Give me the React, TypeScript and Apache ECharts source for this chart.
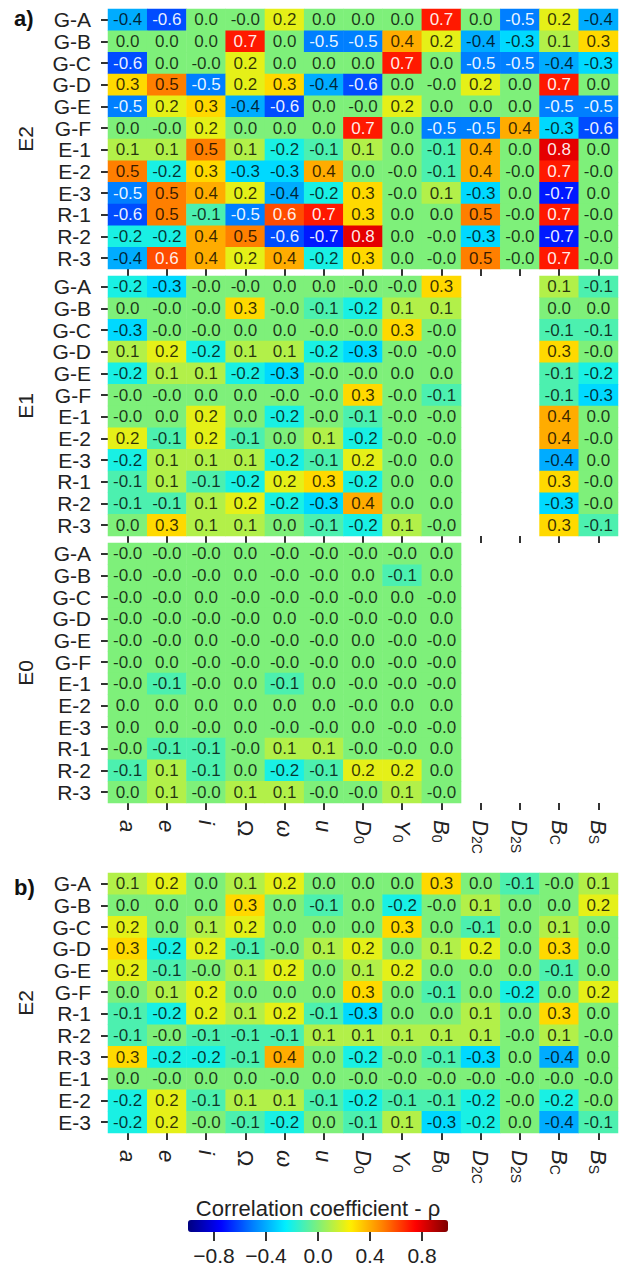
import React, { useEffect, useRef } from "react";
import * as echarts from "echarts";

const FONT = "'Liberation Sans', Arial, sans-serif";

const COL_KEYS = ["a", "e", "i", "Ω", "ω", "u", "D0", "Y0", "B0", "D2C", "D2S", "BC", "BS"];
const COL_MAIN = ["a", "e", "i", "Ω", "ω", "u", "D", "Y", "B", "D", "D", "B", "B"];
const COL_SUB = ["", "", "", "", "", "", "0", "0", "0", "2C", "2S", "C", "S"];
const COL_ITALIC = [true, true, true, false, true, true, true, true, true, true, true, true, true];

const ROWS_A = ["G-A", "G-B", "G-C", "G-D", "G-E", "G-F", "E-1", "E-2", "E-3", "R-1", "R-2", "R-3"];
const ROWS_B = ["G-A", "G-B", "G-C", "G-D", "G-E", "G-F", "R-1", "R-2", "R-3", "E-1", "E-2", "E-3"];

const E2 = [
  [-0.4, -0.6, 0.0, -0.0, 0.2, 0.0, 0.0, 0.0, 0.7, 0.0, -0.5, 0.2, -0.4],
  [0.0, 0.0, 0.0, 0.7, 0.0, -0.5, -0.5, 0.4, 0.2, -0.4, -0.3, 0.1, 0.3],
  [-0.6, 0.0, -0.0, 0.2, 0.0, 0.0, 0.0, 0.7, 0.0, -0.5, -0.5, -0.4, -0.3],
  [0.3, 0.5, -0.5, 0.2, 0.3, -0.4, -0.6, 0.0, -0.0, 0.2, 0.0, 0.7, 0.0],
  [-0.5, 0.2, 0.3, -0.4, -0.6, 0.0, -0.0, 0.2, 0.0, 0.0, 0.0, -0.5, -0.5],
  [0.0, -0.0, 0.2, 0.0, 0.0, 0.0, 0.7, 0.0, -0.5, -0.5, 0.4, -0.3, -0.6],
  [0.1, 0.1, 0.5, 0.1, -0.2, -0.1, 0.1, 0.0, -0.1, 0.4, 0.0, 0.8, 0.0],
  [0.5, -0.2, 0.3, -0.3, -0.3, 0.4, 0.0, -0.0, -0.1, 0.4, -0.0, 0.7, -0.0],
  [-0.5, 0.5, 0.4, 0.2, -0.4, -0.2, 0.3, -0.0, 0.1, -0.3, 0.0, -0.7, 0.0],
  [-0.6, 0.5, -0.1, -0.5, 0.6, 0.7, 0.3, 0.0, 0.0, 0.5, -0.0, 0.7, -0.0],
  [-0.2, -0.2, 0.4, 0.5, -0.6, -0.7, 0.8, 0.0, -0.0, -0.3, -0.0, -0.7, -0.0],
  [-0.4, 0.6, 0.4, 0.2, 0.4, -0.2, 0.3, 0.0, -0.0, 0.5, -0.0, 0.7, -0.0],
];

const E1 = [
  [-0.2, -0.3, -0.0, -0.0, 0.0, 0.0, -0.0, -0.0, 0.3, null, null, 0.1, -0.1],
  [0.0, -0.0, -0.0, 0.3, -0.0, -0.1, -0.2, 0.1, 0.1, null, null, 0.0, 0.0],
  [-0.3, -0.0, -0.0, 0.0, 0.0, -0.0, -0.0, 0.3, -0.0, null, null, -0.1, -0.1],
  [0.1, 0.2, -0.2, 0.1, 0.1, -0.2, -0.3, -0.0, -0.0, null, null, 0.3, -0.0],
  [-0.2, 0.1, 0.1, -0.2, -0.3, -0.0, -0.0, 0.0, 0.0, null, null, -0.1, -0.2],
  [-0.0, -0.0, 0.0, 0.0, -0.0, -0.0, 0.3, -0.0, -0.1, null, null, -0.1, -0.3],
  [-0.0, 0.0, 0.2, 0.0, -0.2, -0.0, -0.1, -0.0, -0.0, null, null, 0.4, 0.0],
  [0.2, -0.1, 0.2, -0.1, 0.0, 0.1, -0.2, -0.0, -0.0, null, null, 0.4, -0.0],
  [-0.2, 0.1, 0.1, 0.1, -0.2, -0.1, 0.2, -0.0, 0.0, null, null, -0.4, 0.0],
  [-0.1, 0.1, -0.1, -0.2, 0.2, 0.3, -0.2, 0.0, 0.0, null, null, 0.3, -0.0],
  [-0.1, -0.1, 0.1, 0.2, -0.2, -0.3, 0.4, 0.0, 0.0, null, null, -0.3, -0.0],
  [0.0, 0.3, 0.1, 0.1, 0.0, -0.1, -0.2, 0.1, -0.0, null, null, 0.3, -0.1],
];

const E0 = [
  [-0.0, -0.0, -0.0, 0.0, -0.0, -0.0, -0.0, -0.0, 0.0],
  [-0.0, -0.0, -0.0, 0.0, -0.0, -0.0, 0.0, -0.1, 0.0],
  [-0.0, -0.0, 0.0, -0.0, -0.0, -0.0, -0.0, 0.0, -0.0],
  [-0.0, -0.0, -0.0, -0.0, 0.0, -0.0, -0.0, -0.0, 0.0],
  [-0.0, -0.0, 0.0, -0.0, -0.0, -0.0, 0.0, -0.0, -0.0],
  [-0.0, 0.0, -0.0, -0.0, -0.0, -0.0, 0.0, -0.0, -0.0],
  [-0.0, -0.1, -0.0, 0.0, -0.1, 0.0, -0.0, -0.0, -0.0],
  [0.0, 0.0, 0.0, 0.0, 0.0, 0.0, -0.0, 0.0, 0.0],
  [0.0, 0.0, -0.0, 0.0, -0.0, -0.0, 0.0, -0.0, -0.0],
  [-0.0, -0.1, -0.1, -0.0, 0.1, 0.1, -0.0, -0.0, 0.0],
  [-0.1, 0.1, -0.1, 0.0, -0.2, -0.1, 0.2, 0.2, 0.0],
  [0.0, 0.1, -0.0, 0.1, 0.1, -0.0, -0.0, 0.1, -0.0],
];

const PB = [
  [0.1, 0.2, 0.0, 0.1, 0.2, 0.0, 0.0, 0.0, 0.3, 0.0, -0.1, -0.0, 0.1],
  [0.0, 0.0, 0.0, 0.3, 0.0, -0.1, 0.0, -0.2, -0.0, 0.1, 0.0, 0.0, 0.2],
  [0.2, 0.0, 0.1, 0.2, 0.0, 0.0, 0.0, 0.3, 0.0, -0.1, 0.0, 0.1, 0.0],
  [0.3, -0.2, 0.2, -0.1, -0.0, 0.1, 0.2, 0.0, 0.1, 0.2, 0.0, 0.3, 0.0],
  [0.2, -0.1, -0.0, 0.1, 0.2, 0.0, 0.1, 0.2, 0.0, 0.0, 0.0, -0.1, 0.0],
  [0.0, 0.1, 0.2, 0.0, 0.0, 0.0, 0.3, 0.0, -0.1, 0.0, -0.2, 0.0, 0.2],
  [-0.1, -0.2, 0.2, 0.1, 0.2, -0.1, -0.3, 0.0, 0.0, 0.1, 0.0, 0.3, 0.0],
  [-0.1, -0.0, -0.1, -0.1, -0.1, 0.1, 0.1, 0.1, 0.1, 0.1, -0.0, 0.1, -0.0],
  [0.3, -0.2, -0.2, -0.1, 0.4, 0.0, -0.2, -0.0, -0.1, -0.3, 0.0, -0.4, 0.0],
  [0.0, -0.0, 0.0, 0.0, -0.0, 0.0, -0.0, -0.0, -0.0, -0.0, -0.0, -0.0, -0.0],
  [-0.2, 0.2, -0.1, 0.1, 0.1, -0.1, -0.2, -0.1, -0.1, -0.2, -0.0, -0.2, -0.0],
  [-0.2, 0.2, -0.0, -0.1, -0.2, 0.0, -0.1, 0.1, -0.3, -0.2, 0.0, -0.4, -0.1],
];

const CBAR_MIN = -1;
const CBAR_MAX = 1;
const CBAR_TICK_MIN = -0.8;
const CBAR_TICK_MAX = 0.8;
const CBAR_TICK_STEP = 0.4;
const CBAR_TITLE = "Correlation coefficient - ρ";

const JET = ["#00007f", "#0000ff", "#007fff", "#00f0ff", "#7ef07a", "#fff000", "#ff7f00", "#ff0000", "#7f0000"];

function fmt(v: number): string {
  const neg = v < 0 || Object.is(v, -0);
  return (neg ? "-" : "") + Math.abs(v).toFixed(1);
}

function cells(block: (number | null)[][]) {
  const out: any[] = [];
  block.forEach((row, r) => {
    row.forEach((v, c) => {
      if (v === null || v === undefined) return;
      const white = v <= -0.5 || v >= 0.6;
      out.push({
        name: fmt(v),
        value: [c, r, v],
        label: { color: white ? "rgba(255,255,255,0.92)" : "rgba(0,0,0,0.78)" },
      });
    });
  });
  return out;
}

const GRID_LEFT = 108;
const GRID_W = 510;
const GRID_H = 260;
const BLOCKS = [
  { top: 9, name: "E2", rows: ROWS_A, data: E2, labels: false },
  { top: 276, name: "E1", rows: ROWS_A, data: E1, labels: false },
  { top: 543, name: "E0", rows: ROWS_A, data: E0, labels: true },
  { top: 873, name: "E2", rows: ROWS_B, data: PB, labels: true },
];

export default function App() {
  const ref = useRef<HTMLDivElement>(null);
  useEffect(() => {
    if (!ref.current) return;
    const chart = echarts.init(ref.current, null, { renderer: "svg" });
    const tickStyle = { color: "#333", width: 2 };
    const grids: any[] = BLOCKS.map((b) => ({ left: GRID_LEFT, top: b.top, width: GRID_W, height: GRID_H }));
    grids.push({ left: 214, top: 1231, width: 208, height: 1 });

    const xAxes: any[] = BLOCKS.map((b, i) => ({
      type: "category",
      gridIndex: i,
      data: COL_KEYS,
      position: "bottom",
      axisLine: { show: false },
      splitLine: { show: false },
      axisTick: { show: true, alignWithLabel: true, interval: 0, length: 7, lineStyle: tickStyle },
      axisLabel: b.labels
        ? {
            show: true,
            interval: 0,
            rotate: -90,
            margin: 17,
            formatter: (_v: string, idx: number) => {
              const main = COL_ITALIC[idx] ? `{it|${COL_MAIN[idx]}}` : `{up|${COL_MAIN[idx]}}`;
              return COL_SUB[idx] ? `${main}{sub|${COL_SUB[idx]}}` : main;
            },
            rich: {
              it: { fontStyle: "italic", fontSize: 22, fontFamily: FONT, color: "#222" },
              up: { fontSize: 22, fontFamily: FONT, color: "#222" },
              sub: { fontSize: 14, fontFamily: FONT, color: "#222", verticalAlign: "bottom", padding: [6, 0, 0, 0] },
            },
          }
        : { show: false },
    }));
    xAxes.push({
      type: "value",
      gridIndex: 4,
      min: CBAR_TICK_MIN,
      max: CBAR_TICK_MAX,
      interval: CBAR_TICK_STEP,
      axisLine: { show: false },
      splitLine: { show: false },
      axisTick: { show: true, length: 9, lineStyle: tickStyle },
      axisLabel: {
        margin: 13,
        fontSize: 21,
        fontFamily: FONT,
        color: "#222",
        formatter: (v: number) => (v < -1e-9 ? "−" : "") + Math.abs(v).toFixed(1),
      },
    });

    const yAxes: any[] = BLOCKS.map((b, i) => ({
      type: "category",
      gridIndex: i,
      data: b.rows,
      inverse: true,
      axisLine: { show: false },
      splitLine: { show: false },
      axisTick: { show: true, alignWithLabel: true, interval: 0, length: 7, lineStyle: tickStyle },
      axisLabel: { interval: 0, margin: 17, fontSize: 21, lineHeight: 21, fontFamily: FONT, color: "#222" },
      name: b.name,
      nameLocation: "middle",
      nameRotate: 90,
      nameGap: 72,
      nameTextStyle: { fontSize: 21, fontFamily: FONT, color: "#222" },
    }));
    yAxes.push({ type: "value", gridIndex: 4, show: false, min: 0, max: 1 });

    const series: any[] = BLOCKS.map((b, i) => ({
      type: "heatmap",
      xAxisIndex: i,
      yAxisIndex: i,
      data: cells(b.data),
      label: {
        show: true,
        formatter: (p: any) => p.name,
        fontSize: 17,
        fontFamily: FONT,
      },
      itemStyle: { borderWidth: 0 },
      emphasis: { disabled: true },
    }));

    chart.setOption({
      animation: false,
      backgroundColor: "#ffffff",
      grid: grids,
      xAxis: xAxes,
      yAxis: yAxes,
      visualMap: {
        type: "continuous",
        min: CBAR_MIN,
        max: CBAR_MAX,
        dimension: 2,
        seriesIndex: [0, 1, 2, 3],
        orient: "horizontal",
        left: 188,
        top: 1220,
        itemWidth: 12,
        itemHeight: 260,
        padding: 0,
        calculable: false,
        hoverLink: false,
        inRange: { color: JET },
      },
      graphic: [
        {
          type: "text",
          left: 14,
          top: 7,
          style: { text: "a)", fontSize: 22, fontWeight: "bold", fontFamily: FONT, fill: "#111" },
        },
        {
          type: "text",
          left: 14,
          top: 876,
          style: { text: "b)", fontSize: 22, fontWeight: "bold", fontFamily: FONT, fill: "#111" },
        },
        {
          type: "text",
          x: 318,
          y: 1208,
          style: {
            text: CBAR_TITLE,
            fontSize: 22,
            fontFamily: FONT,
            fill: "#222",
            align: "center",
            verticalAlign: "middle",
          },
        },
      ],
      series,
    });
    return () => chart.dispose();
  }, []);
  return (
    <div
      ref={ref}
      style={{ position: "absolute", left: 0, top: 0, width: 624, height: 1271, background: "#fff" }}
    />
  );
}
